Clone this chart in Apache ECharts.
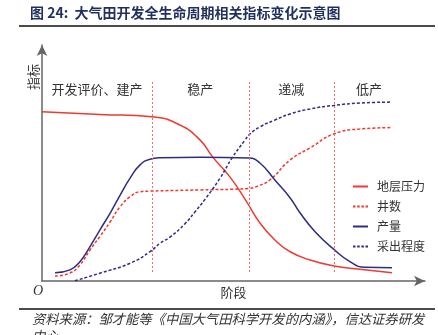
<!DOCTYPE html>
<html>
<head>
<meta charset="utf-8">
<script src="https://cdn.jsdelivr.net/npm/echarts@6/dist/echarts.min.js"></script>
<style>
html,body{margin:0;padding:0;background:#fff;}
#c{width:438px;height:335px;}
</style>
</head>
<body>
<div id="c"></div>
<script>
// ---- data (x: stage progress 0-100, y: indicator level 0-100) ----
const seriesNames = ['地层压力', '井数', '产量', '采出程度'];
const pressure = [[0,71.7],[15.1,70.6],[28.7,69.6],[36.0,66.1],[41.3,59.7],[44.6,52.5],[49.1,44.0],[53.0,34.7],[56.9,24.6],[60.8,17.4],[64.8,12.4],[70.0,8.9],[76.2,6.4],[83.0,5.0],[91.4,3.5]];
const wells = [[3.4,2.1],[7.3,3.4],[9.9,6.8],[12.5,13.1],[15.1,18.8],[17.8,25.1],[20.4,31.5],[23.0,35.7],[25.6,37.8],[28.2,38.1],[41.3,38.6],[54.0,39.2],[56.4,40.3],[59.5,42.8],[64.8,51.3],[70.0,56.4],[76.2,62.3],[83.0,64.4],[91.4,65.0]];
const production = [[3.4,3.5],[7.3,4.7],[9.9,8.2],[12.5,14.5],[15.1,21.6],[17.8,28.8],[20.4,36.4],[23.0,43.6],[25.6,49.2],[28.2,51.6],[30.8,52.2],[41.3,52.4],[54.0,52.1],[56.9,50.0],[60.8,42.8],[64.8,35.2],[67.4,28.8],[71.3,20.9],[76.2,13.4],[80.4,8.2],[84.3,5.8],[91.4,5.6]];
const recovery = [[8.6,0.1],[15.1,3.3],[23.0,7.5],[28.2,12.4],[30.8,16.0],[33.4,18.6],[37.3,24.2],[39.9,29.2],[42.6,34.7],[46.5,43.6],[49.6,52.1],[53.0,59.7],[54.3,62.3],[56.9,65.3],[60.8,68.2],[64.8,70.8],[70.0,72.9],[76.2,74.4],[83.0,75.4],[91.4,75.8]];
const stageNames = ['开发评价、建产', '稳产', '递减', '低产'];
const stageBounds = [0, 28.7, 54.0, 76.2, 94.6];
const dividerRange = [3.8, 85.2];
const stageLabelRange = [78, 85];

const RED = '#ee3a30';
const NAVY = '#2d2e80';
const CJK = '"Noto Sans CJK SC", "Noto Sans", sans-serif';
const SOLID_ICON = 'path://M0,0h15v2h-15z';
const DASH_ICON = 'path://M0,0h2.5v2h-2.5z M4.2,0h2.5v2h-2.5z M8.4,0h2.5v2h-2.5z M12.5,0h2.5v2h-2.5z';

const dividers = stageBounds.slice(1, 4).map(x => [{coord:[x, dividerRange[0]]}, {coord:[x, dividerRange[1]]}]);
const areas = stageNames.map((n, i) => [
  {name: n, coord:[stageBounds[i], stageLabelRange[0]]},
  {coord:[stageBounds[i+1], stageLabelRange[1]]}
]);

const chart = echarts.init(document.getElementById('c'), null, {renderer:'canvas'});
chart.setOption({
  animation: false,
  backgroundColor: '#fff',
  grid: {left: 42, right: 13, top: 45, bottom: 54},
  xAxis: {
    type: 'value', min: 0, max: 100,
    axisLine: {show: true, lineStyle: {color: '#666', width: 1.5}, symbol: ['none','arrow'], symbolSize: [8, 11]},
    axisTick: {show: false}, axisLabel: {show: false}, splitLine: {show: false},
    name: '阶段', nameLocation: 'middle', nameGap: 5,
    nameTextStyle: {fontFamily: CJK, fontSize: 13, color: '#333', verticalAlign: 'top'}
  },
  yAxis: {
    type: 'value', min: 0, max: 100,
    axisLine: {show: true, lineStyle: {color: '#666', width: 1.5}, symbol: ['none','arrow'], symbolSize: [8, 11]},
    axisTick: {show: false}, axisLabel: {show: false}, splitLine: {show: false}
  },
  legend: {
    orient: 'vertical', left: 348, top: 175,
    itemWidth: 15, itemHeight: 2, itemGap: 7,
    data: [
      {name: seriesNames[0], icon: SOLID_ICON, itemStyle: {color: RED}},
      {name: seriesNames[1], icon: DASH_ICON, itemStyle: {color: RED}},
      {name: seriesNames[2], icon: SOLID_ICON, itemStyle: {color: NAVY}},
      {name: seriesNames[3], icon: DASH_ICON, itemStyle: {color: NAVY}}
    ],
    textStyle: {fontFamily: CJK, fontSize: 12, color: '#333', padding: [0,0,0,4], lineHeight: 13}
  },
  series: [
    {name: seriesNames[0], type: 'line', data: pressure, smooth: 0.5, symbol: 'none',
     lineStyle: {color: RED, width: 1.5}, itemStyle: {color: RED},
     markLine: {silent: true, symbol: 'none', label: {show: false},
       lineStyle: {color: '#f06a6a', width: 1, type: [2, 2]}, data: dividers},
     markArea: {silent: true, itemStyle: {color: 'rgba(0,0,0,0)'},
       label: {show: true, position: 'inside', fontFamily: CJK, fontSize: 13, color: '#333'}, data: areas}
    },
    {name: seriesNames[1], type: 'line', data: wells, smooth: 0.5, symbol: 'none',
     lineStyle: {color: RED, width: 1.5, type: [3, 2]}, itemStyle: {color: RED}},
    {name: seriesNames[2], type: 'line', data: production, smooth: 0.5, symbol: 'none',
     lineStyle: {color: NAVY, width: 1.5}, itemStyle: {color: NAVY}},
    {name: seriesNames[3], type: 'line', data: recovery, smooth: 0.5, symbol: 'none',
     lineStyle: {color: NAVY, width: 1.5, type: [3, 2]}, itemStyle: {color: NAVY}}
  ],
  graphic: [
    {type: 'text', left: 30, top: 6, style: {text: '图 24:  大气田开发全生命周期相关指标变化示意图', fontFamily: CJK, fontWeight: 'bold', fontSize: 14, fill: '#1f2f5e'}},
    {type: 'line', shape: {x1: 19, y1: 26, x2: 435, y2: 26}, style: {stroke: '#111', lineWidth: 1.5}},
    {type: 'text', x: 33, y: 77, rotation: Math.PI/2, style: {text: '指标', fontFamily: CJK, fontSize: 13, fill: '#333', align: 'center', verticalAlign: 'middle'}},
    {type: 'text', x: 38, y: 291, style: {text: 'O', fontFamily: '"Liberation Serif", serif', fontStyle: 'italic', fontSize: 14, fill: '#333', align: 'center', verticalAlign: 'middle'}},
    {type: 'line', shape: {x1: 19, y1: 309, x2: 435, y2: 309}, style: {stroke: '#111', lineWidth: 1.5}},
    {type: 'text', x: 32, y: 310, style: {text: '资料来源：邹才能等《中国大气田科学开发的内涵》，信达证券研发\n中心', fontFamily: CJK, fontStyle: 'italic', fontSize: 13.3, lineHeight: 17, fill: '#333', verticalAlign: 'top'}}
  ]
});
</script>
</body>
</html>
